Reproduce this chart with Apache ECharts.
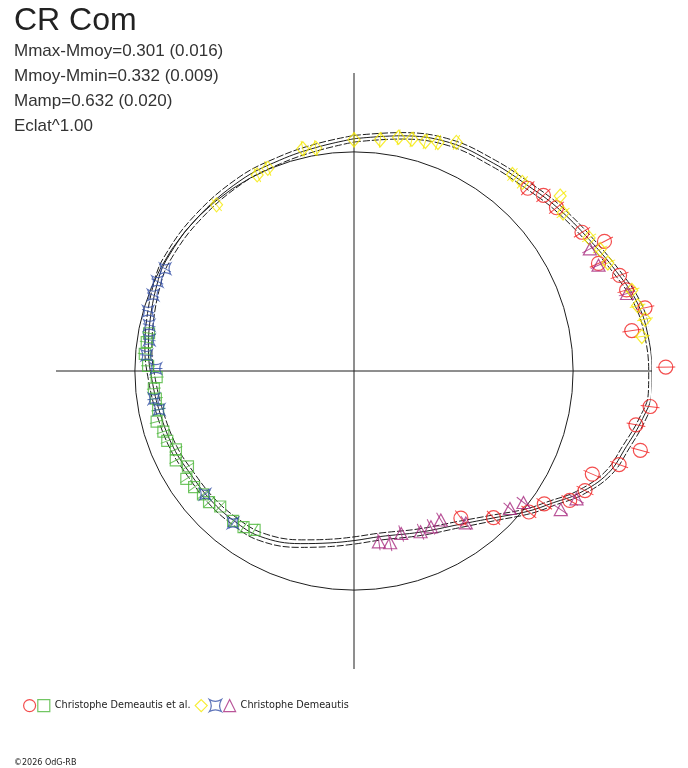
<!DOCTYPE html>
<html>
<head>
<meta charset="utf-8">
<title>CR Com</title>
<script src="https://cdn.jsdelivr.net/npm/echarts/dist/echarts.min.js"></script>
<style>
  html, body { margin: 0; padding: 0; background: #fff; }
  #chart { width: 688px; height: 768px; }
</style>
</head>
<body>
<div id="chart"></div>
<script>
// header texts
const titleText = 'CR Com';
const statLines = ['Mmax-Mmoy=0.301 (0.016)', 'Mmoy-Mmin=0.332 (0.009)', 'Mamp=0.632 (0.020)', 'Eclat^1.00'];
const copyright = '\u00a92026 OdG-RB';

// fitted light curve: phase (0..1, clockwise from top) and radius (mean magnitude circle = 1)
const fitPhase = [0, 0.031, 0.063, 0.094, 0.120, 0.142, 0.169, 0.196, 0.2125, 0.229,
  0.25, 0.262, 0.276, 0.293, 0.311, 0.329, 0.343, 0.358, 0.379, 0.404,
  0.438, 0.475, 0.5, 0.522, 0.548, 0.582, 0.608, 0.633, 0.661, 0.686, 0.716,
  0.743, 0.766, 0.786, 0.817, 0.836, 0.872, 0.914, 0.946, 0.974, 1];
const fitR = [1.060, 1.094, 1.130, 1.142, 1.160, 1.190, 1.230, 1.290, 1.330, 1.350,
  1.360, 1.362, 1.335, 1.290, 1.250, 1.170, 1.090, 1.020, 0.925, 0.850,
  0.795, 0.765, 0.774, 0.792, 0.825, 0.868, 0.876, 0.880, 0.882, 0.895, 0.906,
  0.923, 0.943, 0.957, 0.983, 0.995, 1.000, 1.012, 1.020, 1.035, 1.060];
const fitHi = [1.075, 1.109, 1.145, 1.158, 1.176, 1.206, 1.246, 1.305, 1.345, 1.365,
  1.375, 1.377, 1.350, 1.306, 1.266, 1.186, 1.106, 1.036, 0.941, 0.866,
  0.811, 0.781, 0.790, 0.809, 0.843, 0.887, 0.894, 0.897, 0.898, 0.911, 0.922,
  0.939, 0.959, 0.973, 0.999, 1.011, 1.016, 1.028, 1.036, 1.051, 1.075];
const fitLo = [1.045, 1.079, 1.115, 1.126, 1.144, 1.174, 1.214, 1.275, 1.315, 1.335,
  1.345, 1.347, 1.320, 1.274, 1.234, 1.154, 1.074, 1.004, 0.909, 0.834,
  0.779, 0.749, 0.757, 0.775, 0.807, 0.849, 0.858, 0.863, 0.866, 0.879, 0.890,
  0.907, 0.927, 0.941, 0.967, 0.979, 0.984, 0.996, 1.004, 1.019, 1.045];

// observations
const redPhase = [0.121, 0.131, 0.142, 0.163, 0.174, 0.184, 0.195, 0.204, 0.216, 0.227, 0.248,
  0.269, 0.280, 0.293, 0.304, 0.315, 0.326, 0.336, 0.347, 0.358, 0.379, 0.400];
const redR = [1.151, 1.179, 1.187, 1.218, 1.287, 1.219, 1.288, 1.298, 1.359, 1.281, 1.423,
  1.361, 1.310, 1.356, 1.283, 1.185, 1.187, 1.148, 1.059, 1.025, 0.924, 0.830];

const greenPhase = [0.779, 0.772, 0.763, 0.754, 0.745, 0.736, 0.728, 0.719, 0.710, 0.701, 0.693,
  0.684, 0.676, 0.667, 0.659, 0.650, 0.641, 0.633, 0.624, 0.608, 0.598, 0.589];
const greenR = [0.951, 0.955, 0.958, 0.940, 0.901, 0.917, 0.913, 0.911, 0.930, 0.913, 0.910,
  0.888, 0.910, 0.874, 0.910, 0.902, 0.890, 0.892, 0.869, 0.879, 0.873, 0.855];

const yellowPhase = [0.890, 0.927, 0.936, 0.964, 0.973, 0.000, 0.018, 0.030, 0.039, 0.048, 0.056, 0.067,
  0.108, 0.116, 0.138, 0.147, 0.168, 0.177, 0.186, 0.205, 0.214, 0.222, 0.231];
const yellowR = [0.984, 0.998, 1.005, 1.041, 1.032, 1.055, 1.062, 1.086, 1.090, 1.097, 1.111, 1.143,
  1.152, 1.154, 1.234, 1.196, 1.233, 1.253, 1.259, 1.320, 1.328, 1.349, 1.323];

const bluePhase = [0.829, 0.818, 0.8075, 0.795, 0.785, 0.774, 0.762, 0.752, 0.728, 0.719, 0.640, 0.607];
const blueR = [0.980, 0.986, 0.980, 0.978, 0.958, 0.945, 0.949, 0.904, 0.922, 0.906, 0.882, 0.887];

const purplePhase = [0.174, 0.185, 0.206, 0.333, 0.344, 0.355, 0.365, 0.399, 0.416, 0.427, 0.4375, 0.455, 0.467, 0.477];
const purpleR = [1.212, 1.216, 1.295, 1.171, 1.136, 0.979, 0.949, 0.861, 0.787, 0.793, 0.794, 0.772, 0.801, 0.788];

// legend
const legendNames = ['cde_circle', 'cde_square', 'cd_diamond', 'cd_star', 'cd_triangle'];
const legendLabels = ['', 'Christophe Demeautis et al. ', '', '', 'Christophe Demeautis'];

const RED = '#f02020', GREEN = '#4fb83c', YELLOW = '#f5e800', BLUE = '#3550a8', PURPLE = '#a82a80';
const INK = '#1e1e1e';
const starPath = 'path://M-5,-5Q0,-2,5,-5Q2,0,5,5Q0,2,-5,5Q-2,0,-5,-5Z';

function pairs(r, p) {
  return r.map((v, i) => [v, p[i]]);
}

function curve(r, dashed) {
  return {
    type: 'line', coordinateSystem: 'polar', smooth: 0.4, symbol: 'none', clip: false, silent: true,
    lineStyle: { color: INK, width: 1, type: dashed ? [7, 2] : 'solid' },
    data: pairs(r, fitPhase), z: 2
  };
}

function observations(name, r, p, symbol, size, color, barLen) {
  const data = pairs(r, p);
  return [
    { // radial error bar
      type: 'scatter', coordinateSystem: 'polar', silent: true, clip: false,
      symbol: 'rect', symbolSize: [1, barLen], symbolRotate: v => -v[1] * 360,
      itemStyle: { color: color }, data: data, z: 3
    },
    {
      name: name, type: 'scatter', coordinateSystem: 'polar', silent: true, clip: false,
      symbol: symbol, symbolSize: size,
      itemStyle: { color: 'rgba(0,0,0,0)', borderColor: color, borderWidth: 1.2 },
      data: data, z: 4
    }
  ];
}

const chart = echarts.init(document.getElementById('chart'), null, { renderer: 'canvas' });

chart.setOption({
  animation: false,
  backgroundColor: '#fff',
  title: [
    {
      text: titleText, left: 9, top: 0,
      textStyle: { fontFamily: 'Liberation Sans', fontSize: 32, fontWeight: 'normal', color: '#222' },
      subtext: statLines.join('\n'), itemGap: 2,
      subtextStyle: { fontFamily: 'Liberation Sans', fontSize: 17, color: '#333', lineHeight: 25 }
    },
    {
      text: copyright, left: 9, top: 754,
      textStyle: { fontFamily: 'DejaVu Sans', fontSize: 8, fontWeight: 'normal', color: '#222' }
    }
  ],
  legend: {
    left: 18, top: 694, itemWidth: 12, itemHeight: 12, itemGap: 1,
    selectedMode: false,
    textStyle: { fontFamily: 'DejaVu Sans', fontSize: 9.7, color: '#222' },
    formatter: n => legendLabels[legendNames.indexOf(n)],
    data: [
      { name: legendNames[0], icon: 'circle', itemStyle: { color: 'rgba(0,0,0,0)', borderColor: RED, borderWidth: 1.2 } },
      { name: legendNames[1], icon: 'rect', itemStyle: { color: 'rgba(0,0,0,0)', borderColor: GREEN, borderWidth: 1.2 } },
      { name: legendNames[2], icon: 'diamond', itemStyle: { color: 'rgba(0,0,0,0)', borderColor: YELLOW, borderWidth: 1.2 } },
      { name: legendNames[3], icon: starPath, itemStyle: { color: 'rgba(0,0,0,0)', borderColor: BLUE, borderWidth: 1.2 } },
      { name: legendNames[4], icon: 'triangle', itemStyle: { color: 'rgba(0,0,0,0)', borderColor: PURPLE, borderWidth: 1.2 } }
    ]
  },
  polar: { center: [354, 371], radius: 298 },
  angleAxis: {
    type: 'value', min: 0, max: 1, interval: 0.25, startAngle: 90, clockwise: true,
    axisLine: { show: false }, axisTick: { show: false }, axisLabel: { show: false },
    splitLine: { show: true, lineStyle: { color: INK, width: 1 } }
  },
  radiusAxis: {
    type: 'value', min: 0, max: 1.36, interval: 1,
    axisLine: { show: false }, axisTick: { show: false }, axisLabel: { show: false },
    splitLine: { show: true, lineStyle: { color: ['rgba(0,0,0,0)', INK, 'rgba(0,0,0,0)'], width: 1 } }
  },
  series: [
    curve(fitHi, true),
    curve(fitLo, true),
    curve(fitR, false),
    ...observations(legendNames[0], redR, redPhase, 'circle', 14, RED, 19),
    ...observations(legendNames[1], greenR, greenPhase, 'rect', 11, GREEN, 14),
    ...observations(legendNames[2], yellowR, yellowPhase, 'diamond', [12, 14], YELLOW, 16),
    ...observations(legendNames[3], blueR, bluePhase, starPath, 11, BLUE, 13),
    ...observations(legendNames[4], purpleR, purplePhase, 'triangle', [13, 12], PURPLE, 17)
  ]
});
</script>
</body>
</html>
